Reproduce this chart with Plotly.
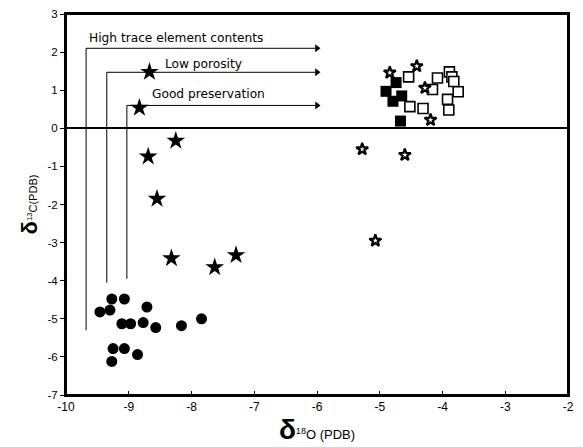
import plotly.graph_objects as go

# ---- data ----
circle_x = [-9.27, -9.07, -9.46, -9.30, -8.71, -9.11, -8.97, -8.77, -8.57, -8.16, -7.84, -9.25, -9.07, -8.86, -9.27]
circle_y = [-4.48, -4.48, -4.82, -4.77, -4.69, -5.13, -5.13, -5.10, -5.23, -5.18, -5.00, -5.78, -5.78, -5.94, -6.12]

big_star_x = [-8.67, -8.83, -8.25, -8.69, -8.55, -8.32, -7.63, -7.29]
big_star_y = [1.48, 0.54, -0.33, -0.74, -1.85, -3.41, -3.65, -3.33]

small_star_x = [-5.28, -4.60, -5.07, -4.84, -4.41, -4.28, -4.19]
small_star_y = [-0.55, -0.70, -2.95, 1.46, 1.63, 1.06, 0.22]

open_sq_x = [-4.54, -4.52, -4.31, -4.16, -4.08, -3.89, -3.85, -3.82, -3.75, -3.92, -3.90]
open_sq_y = [1.35, 0.57, 0.52, 1.02, 1.32, 1.48, 1.35, 1.23, 0.96, 0.76, 0.48]

filled_sq_x = [-4.90, -4.74, -4.65, -4.79, -4.67]
filled_sq_y = [0.97, 1.20, 0.85, 0.71, 0.19]

bracket_labels = ["High trace element contents", "Low porosity", "Good preservation"]
bracket_x = [-9.68, -9.35, -9.03]
bracket_top = [2.10, 1.47, 0.60]
bracket_bottom = [-5.30, -4.05, -3.95]
bracket_end = -6.0
label_x = [-9.67, -8.45, -8.66]
label_y = [2.36, 1.70, 0.90]

x_ticks = [-10, -9, -8, -7, -6, -5, -4, -3, -2]
x_ticktext = ["-10", "-9", "-8", "-7", "-6", "-5", "-4", "-3", "-2"]
y_ticks = [3, 2, 1, 0, -1, -2, -3, -4, -5, -6, -7]
y_ticktext = ["3", "2", "1", "0", "-1", "-2", "-3", "-4", "-5", "-6", "-7"]

FONT = "Liberation Sans"
LABEL_FONT = "DejaVu Sans"

fig = go.Figure()

# bracket lines (vertical + horizontal)
for bx, bt, bb in zip(bracket_x, bracket_top, bracket_bottom):
    fig.add_trace(go.Scatter(x=[bx, bx, bracket_end], y=[bb, bt, bt], mode="lines",
                             line=dict(color="black", width=1), hoverinfo="skip", showlegend=False))
# arrow heads at the ends of the horizontal lines
fig.add_trace(go.Scatter(x=[bracket_end] * len(bracket_top), y=bracket_top, mode="markers",
                         marker=dict(symbol="triangle-right", size=7, color="black", line=dict(width=0)),
                         hoverinfo="skip", showlegend=False))

for t, lx, ly in zip(bracket_labels, label_x, label_y):
    fig.add_annotation(x=lx, y=ly, text=t, showarrow=False, xanchor="left", yanchor="middle",
                       font=dict(family=LABEL_FONT, size=12.2, color="black"))

fig.add_trace(go.Scatter(x=circle_x, y=circle_y, mode="markers",
                         marker=dict(symbol="circle", size=11, color="black", line=dict(width=0)),
                         showlegend=False))
fig.add_trace(go.Scatter(x=big_star_x, y=big_star_y, mode="markers",
                         marker=dict(symbol="star", size=14, color="black", line=dict(width=0)),
                         showlegend=False))
fig.add_trace(go.Scatter(x=open_sq_x, y=open_sq_y, mode="markers",
                         marker=dict(symbol="square", size=10, color="white",
                                     line=dict(color="black", width=1.6)),
                         showlegend=False))
fig.add_trace(go.Scatter(x=filled_sq_x, y=filled_sq_y, mode="markers",
                         marker=dict(symbol="square", size=11, color="black", line=dict(width=0)),
                         showlegend=False))
fig.add_trace(go.Scatter(x=small_star_x, y=small_star_y, mode="markers",
                         marker=dict(symbol="star", size=9, color="white",
                                     line=dict(color="black", width=2.2)),
                         showlegend=False))

# plot frame
fig.add_shape(type="rect", xref="paper", yref="paper", x0=0, y0=0, x1=1, y1=1,
              line=dict(color="black", width=2), layer="above")

fig.update_layout(
    width=575, height=439,
    margin=dict(l=58, r=15, t=6, b=52, autoexpand=False),
    paper_bgcolor="white", plot_bgcolor="white",
    font=dict(family=FONT, size=12, color="black"),
    xaxis=dict(range=[-10, -2], tickvals=x_ticks, ticktext=x_ticktext,
               showgrid=False, zeroline=False, showline=True, mirror=True,
               linecolor="black", linewidth=2, ticks="inside", ticklen=4,
               tickcolor="black", tickfont=dict(family=FONT, size=12),
               ticklabeloverflow="allow", automargin=False,
               title=dict(text="<span style='font-size:28px'><b>δ</b></span><sup>18</sup>O (PDB)",
                          font=dict(family=FONT, size=13), standoff=4)),
    yaxis=dict(range=[-7, 3], tickvals=y_ticks, ticktext=y_ticktext,
               showgrid=False, zeroline=True, zerolinecolor="black", zerolinewidth=2,
               showline=True, mirror=True, linecolor="black", linewidth=2,
               ticks="outside", ticklen=4, tickcolor="black",
               tickfont=dict(family=FONT, size=11.5),
               ticklabeloverflow="allow", automargin=False,
               title=dict(text="<span style='font-size:22px'><b>δ</b></span><sup>13</sup>C(PDB)",
                          font=dict(family=FONT, size=11), standoff=8)),
)

fig.write_html("out.html")
